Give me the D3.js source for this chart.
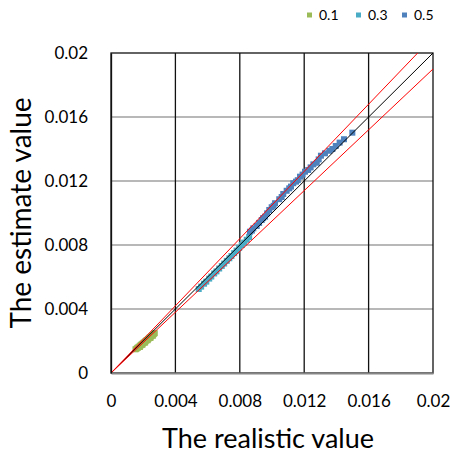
<!DOCTYPE html>
<html>
<head>
<meta charset="utf-8">
<script src="https://cdn.jsdelivr.net/npm/d3@7"></script>
<style>
  html, body { margin: 0; padding: 0; background: #fff; }
  svg { display: block; font-family: Lato, "Open Sans", sans-serif; }
</style>
</head>
<body>
<svg id="chart" width="450" height="455"></svg>
<script>
// Axis ticks (shared by both axes)
const tickValues = [0, 0.004, 0.008, 0.012, 0.016, 0.02];
const tickLabels = ["0", "0.004", "0.008", "0.012", "0.016", "0.02"];

// Series names and colours
const seriesNames = ["0.1", "0.3", "0.5"];
const seriesColors = ["#9BBB59", "#4BACC6", "#4F81BD"];

// Series 0.1 : realistic (x) and estimated (y) values
const realistic01 = [0.00152, 0.00158, 0.00163, 0.00167, 0.00171, 0.00175, 0.00179, 0.00183,
  0.00186, 0.00190, 0.00194, 0.00198, 0.00202, 0.00206, 0.00211, 0.00215, 0.00219, 0.00224,
  0.00229, 0.00234, 0.00239, 0.00245, 0.00251, 0.00258, 0.00266, 0.00272,
  0.00180, 0.00195, 0.00212, 0.00228, 0.00245, 0.00260];
const estimate01 = [0.00148, 0.00151, 0.00157, 0.00158, 0.00163, 0.00164, 0.00170, 0.00171,
  0.00176, 0.00178, 0.00182, 0.00185, 0.00189, 0.00191, 0.00196, 0.00199, 0.00204, 0.00206,
  0.00212, 0.00215, 0.00221, 0.00224, 0.00231, 0.00236, 0.00243, 0.00249,
  0.00163, 0.00176, 0.00190, 0.00205, 0.00219, 0.00233];

// Series 0.3
const realistic03 = [0.00545, 0.00560, 0.00578, 0.00592, 0.00610, 0.00623, 0.00641, 0.00655,
  0.00672, 0.00688, 0.00703, 0.00719, 0.00735, 0.00748, 0.00765, 0.00780, 0.00796, 0.00812,
  0.00827, 0.00843, 0.00858];
const estimate03 = [0.00525, 0.00540, 0.00558, 0.00571, 0.00590, 0.00603, 0.00622, 0.00635,
  0.00653, 0.00669, 0.00684, 0.00701, 0.00717, 0.00731, 0.00749, 0.00765, 0.00782, 0.00800,
  0.00815, 0.00833, 0.00850];

// Series 0.5
const realistic05 = [0.00863, 0.00875, 0.00884, 0.00905, 0.00920, 0.00936, 0.00945, 0.00957,
  0.00970, 0.00983, 0.00998, 0.01010, 0.01019, 0.01045, 0.01060, 0.01070, 0.01091, 0.01107,
  0.01118, 0.01132, 0.01149, 0.01160, 0.01174, 0.01190, 0.01205, 0.01225, 0.01240, 0.01257,
  0.01278, 0.01290, 0.01304, 0.01329, 0.01356, 0.01375, 0.01396, 0.01420, 0.01447, 0.01499];
const estimate05 = [0.00883, 0.00890, 0.00904, 0.00919, 0.00938, 0.00956, 0.00968, 0.00977,
  0.00998, 0.01019, 0.01036, 0.01045, 0.01061, 0.01086, 0.01100, 0.01119, 0.01139, 0.01154,
  0.01165, 0.01186, 0.01196, 0.01205, 0.01227, 0.01240, 0.01258, 0.01269, 0.01285, 0.01304,
  0.01314, 0.01335, 0.01358, 0.01373, 0.01389, 0.01400, 0.01419, 0.01440, 0.01461, 0.01502];

// Reference lines: identity and ±5 % bands (slopes)
const refSlopes = [1.0, 1.05, 0.95];
const refColors = ["#000000", "#FF0000", "#FF0000"];

const seriesX = [realistic01, realistic03, realistic05];
const seriesY = [estimate01, estimate03, estimate05];

const svg = d3.select("#chart");
const plot = { left: 111, right: 433, top: 53, bottom: 373 };

const x = d3.scaleLinear().domain([0, 0.02]).range([plot.left, plot.right]);
const y = d3.scaleLinear().domain([0, 0.02]).range([plot.bottom, plot.top]);

// Horizontal gridlines (grey)
svg.append("g").selectAll("line")
  .data(tickValues.slice(1, -1))
  .join("line")
  .attr("x1", plot.left).attr("x2", plot.right)
  .attr("y1", d => y(d)).attr("y2", d => y(d))
  .attr("stroke", "#a0a0a0").attr("stroke-width", 1.6);

// Vertical gridlines (black)
svg.append("g").selectAll("line")
  .data(tickValues.slice(1, -1))
  .join("line")
  .attr("x1", d => x(d)).attr("x2", d => x(d))
  .attr("y1", plot.top).attr("y2", plot.bottom)
  .attr("stroke", "#111").attr("stroke-width", 1.3);

// Plot-area border
svg.append("rect")
  .attr("x", plot.left).attr("y", plot.top)
  .attr("width", plot.right - plot.left).attr("height", plot.bottom - plot.top)
  .attr("fill", "none").attr("stroke", "#111").attr("stroke-width", 1.3);

// Markers
const markerSize = 6;
seriesNames.forEach((name, i) => {
  const pts = seriesX[i].map((v, j) => [v, seriesY[i][j]]);
  svg.append("g").selectAll("rect")
    .data(pts)
    .join("rect")
    .attr("x", d => x(d[0]) - markerSize / 2)
    .attr("y", d => y(d[1]) - markerSize / 2)
    .attr("width", markerSize).attr("height", markerSize)
    .attr("fill", seriesColors[i]);
});

// Reference lines drawn over the markers
const line = d3.line().x(d => x(d[0])).y(d => y(d[1]));
svg.append("defs").append("clipPath").attr("id", "plotClip")
  .append("rect")
  .attr("x", plot.left).attr("y", plot.top)
  .attr("width", plot.right - plot.left).attr("height", plot.bottom - plot.top);
const refG = svg.append("g").attr("clip-path", "url(#plotClip)");
refSlopes.forEach((s, i) => {
  refG.append("path")
    .attr("d", line([[0, 0], [0.02, 0.02 * s]]))
    .attr("fill", "none")
    .attr("stroke", refColors[i])
    .attr("stroke-width", 1);
});

// X axis (grey baseline)
const fmt = d => tickLabels[tickValues.indexOf(d)];
const xAxis = svg.append("g")
  .attr("transform", `translate(0,${plot.bottom})`)
  .call(d3.axisBottom(x).tickValues(tickValues).tickFormat(fmt).tickSize(0).tickPadding(22));
xAxis.select(".domain").attr("stroke", "#868686").attr("stroke-width", 2);
xAxis.selectAll("text").attr("font-size", 17).attr("fill", "#000")
  .attr("font-family", "Lato, sans-serif");

// Y axis
const yAxis = svg.append("g")
  .attr("transform", `translate(${plot.left},0)`)
  .call(d3.axisLeft(y).tickValues(tickValues).tickFormat(fmt).tickSize(0).tickPadding(23));
yAxis.select(".domain").attr("stroke", "#111").attr("stroke-width", 1.3);
yAxis.selectAll("text").attr("font-size", 17).attr("fill", "#000")
  .attr("font-family", "Lato, sans-serif");

// Axis titles
svg.append("text")
  .attr("x", 268).attr("y", 448)
  .attr("text-anchor", "middle")
  .attr("font-size", 27).attr("fill", "#000")
  .text("The realistic value");

svg.append("text")
  .attr("transform", `translate(31,${(plot.top + plot.bottom) / 2}) rotate(-90)`)
  .attr("text-anchor", "middle")
  .attr("font-size", 28).attr("fill", "#000")
  .text("The estimate value");

// Legend
const legendX = [307, 356, 402];
const legend = svg.append("g").selectAll("g")
  .data(seriesNames)
  .join("g")
  .attr("transform", (d, i) => `translate(${legendX[i]},15)`);
legend.append("rect")
  .attr("x", 0).attr("y", -2.5).attr("width", 5).attr("height", 5)
  .attr("fill", (d, i) => seriesColors[i]);
legend.append("text")
  .attr("x", 12).attr("y", 5)
  .attr("font-size", 14).attr("fill", "#000")
  .text(d => d);
</script>
</body>
</html>
